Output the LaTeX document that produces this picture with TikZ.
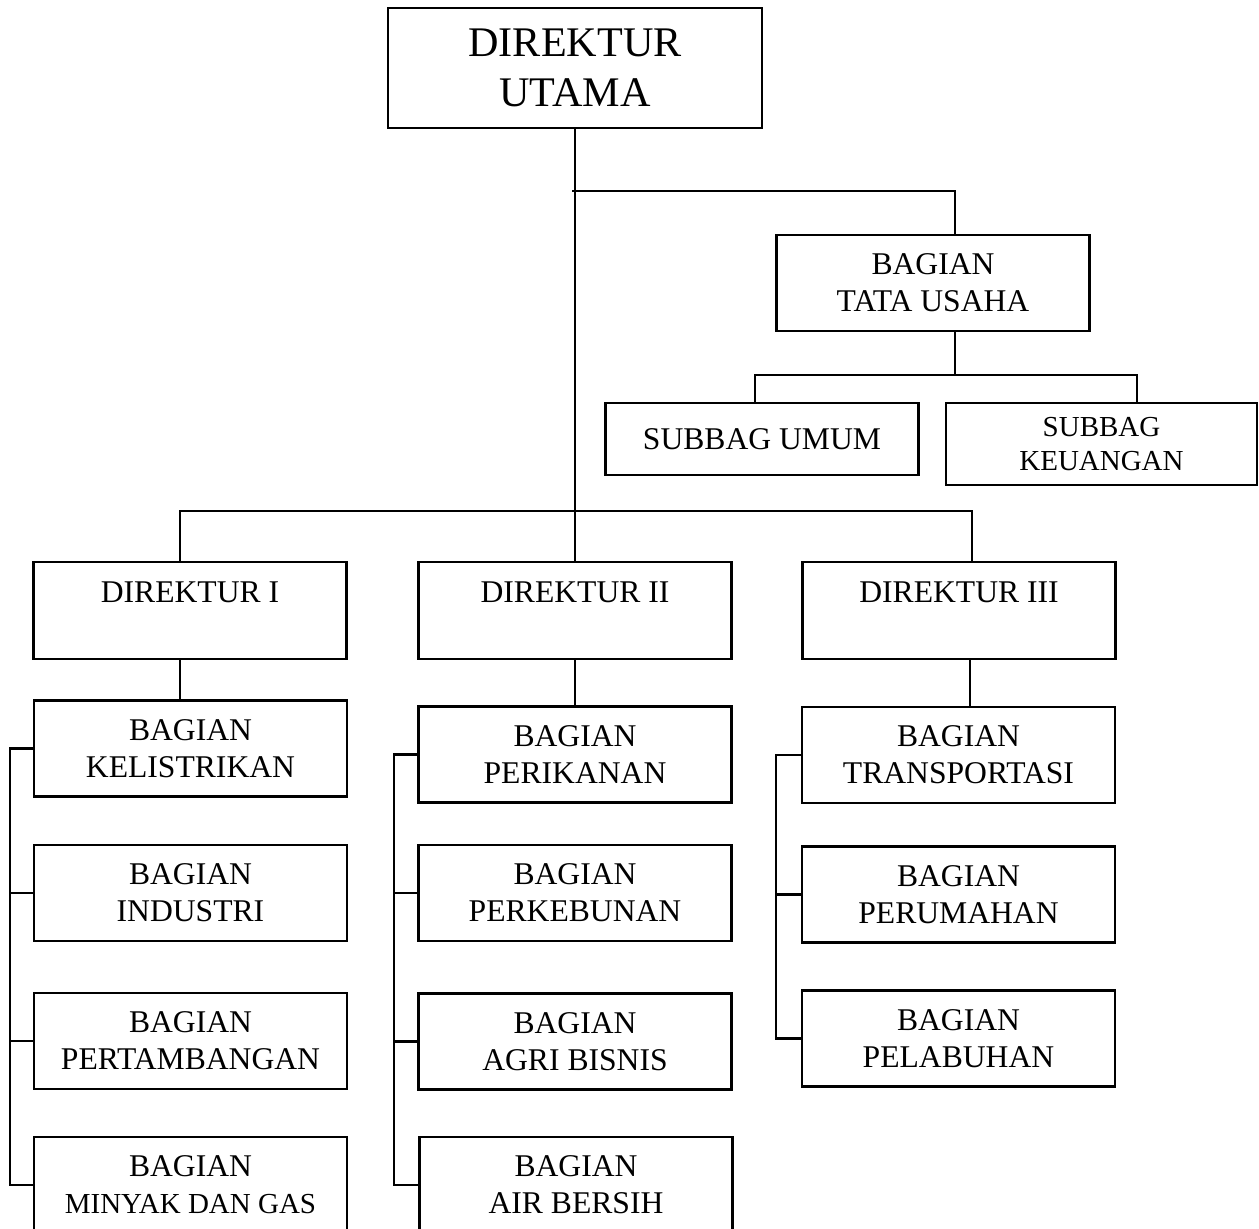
\documentclass[tikz,border=0pt]{standalone}
\usepackage{fontspec}
\setmainfont{Liberation Serif}
\usetikzlibrary{positioning}

\begin{document}
\begin{tikzpicture}[x=0.02cm, y=-0.02cm,
            box/.style={rectangle, draw, line width=1.2pt, align=center, inner sep=0pt, minimum width=6.26cm, minimum height=1.92cm, font=\fontsize{18}{21}\selectfont},
            link/.style={line width=1.2pt}
        ]
        \clip (0,0) rectangle (1259,1229);
        % pimpinan dan tata usaha
        \node[box, minimum width=7.48cm, minimum height=2.4cm, font=\fontsize{24}{28}\selectfont] (dirut) at (575,68) {DIREKTUR\\UTAMA};
        \node[box] (tu) at (933,283) {BAGIAN\\TATA USAHA};
        \node[box, minimum height=1.44cm] (umum) at (762,439) {SUBBAG UMUM};
        \node[box, minimum width=6.22cm, minimum height=1.64cm, font=\fontsize{16.5}{19.3}\selectfont] (keu) at (1101.5,444) {SUBBAG\\KEUANGAN};
        
        % direktur
        \node[box, minimum height=1.94cm] (dir1) at (190,610.5) {DIREKTUR I\\\mbox{}};
        \node[box, minimum height=1.94cm] (dir2) at (575,610.5) {DIREKTUR II\\\mbox{}};
        \node[box, minimum height=1.94cm] (dir3) at (959,610.5) {DIREKTUR III\\\mbox{}};
        
        % bagian direktur I
        \node[box] (listrik) at (190.5,748.5) {BAGIAN\\KELISTRIKAN};
        \node[box] (industri) at (190.5,893) {BAGIAN\\INDUSTRI};
        \node[box] (tambang) at (190.5,1041) {BAGIAN\\PERTAMBANGAN};
        \node[box] (migas) at (190.5,1185) {BAGIAN\\{\fontsize{16.5}{21}\selectfont MINYAK DAN GAS}};
        
        % bagian direktur II
        \node[box] (ikan) at (575,754.5) {BAGIAN\\PERIKANAN};
        \node[box] (kebun) at (575,893) {BAGIAN\\PERKEBUNAN};
        \node[box] (agri) at (575,1041.5) {BAGIAN\\AGRI BISNIS};
        \node[box] (air) at (576,1185) {BAGIAN\\AIR BERSIH};
        
        % bagian direktur III
        \node[box] (trans) at (958.5,755) {BAGIAN\\TRANSPORTASI};
        \node[box] (rumah) at (958.5,894.5) {BAGIAN\\PERUMAHAN};
        \node[box] (labuh) at (958.5,1038.5) {BAGIAN\\PELABUHAN};
        
        \coordinate (cabang) at (572,191);
        \coordinate (cabangtu) at (955,191);
        \coordinate (subkiri) at (755,375);
        \coordinate (subkanan) at (1137,375);
        \coordinate (dirkiri) at (180,511);
        \coordinate (dirkanan) at (972,511);
        \coordinate (rel1) at (10,0);
        \coordinate (rel2) at (394,0);
        \coordinate (rel3) at (776,0);
        
        \draw[link] (dirut) -- (dir2);
        \draw[link] (cabang) -- (cabangtu) -- (cabangtu |- tu.north);
        \draw[link] (tu.south -| cabangtu) -- (cabangtu |- subkiri);
        \draw[link] (subkiri |- umum.north) -- (subkiri) -- (subkanan) -- (subkanan |- keu.north);
        \draw[link] (dirkiri |- dir1.north) -- (dirkiri) -- (dirkanan) -- (dirkanan |- dir3.north);
        
        \draw[link] (dir1.south -| dirkiri) -- (dirkiri |- listrik.north);
        \draw[link] (dir2) -- (ikan);
        \draw[link] (dir3.south -| 970,0) -- (970,0 |- trans.north);
        
        \draw[link] (listrik.west) -- (listrik.west -| rel1) |- (migas.west);
        \draw[link] (industri.west) -- (industri.west -| rel1);
        \draw[link] (tambang.west) -- (tambang.west -| rel1);
        
        \draw[link] (ikan.west) -- (ikan.west -| rel2) |- (air.west);
        \draw[link] (kebun.west) -- (kebun.west -| rel2);
        \draw[link] (agri.west) -- (agri.west -| rel2);
        
        \draw[link] (trans.west) -- (trans.west -| rel3) |- (labuh.west);
        \draw[link] (rumah.west) -- (rumah.west -| rel3);
\end{tikzpicture}
\end{document}
